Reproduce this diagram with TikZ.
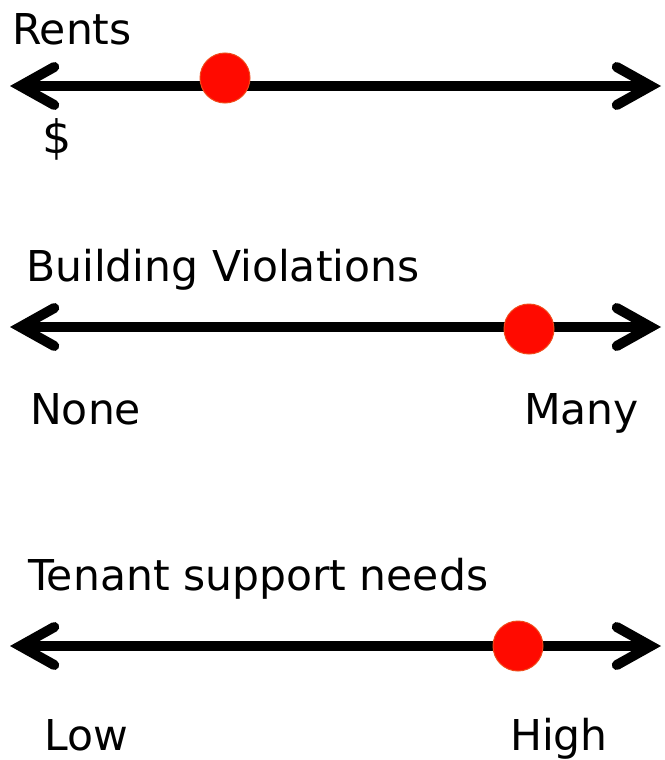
\documentclass[tikz,border=0pt]{standalone}
\usepackage{fontspec}
\setmainfont{DejaVu Sans}
\usetikzlibrary{arrows.meta}
\definecolor{dotred}{HTML}{FF0A00}
\definecolor{dotedge}{HTML}{F04A1A}
\tikzset{
  chev/.tip={Straight Barb[length=34pt,width=38pt,line width=10pt,line cap=round,line join=miter]},
  axis/.style={line width=10pt,chev-chev},
  marker/.style={circle,fill=dotred,draw=dotedge,line width=1pt,minimum size=50pt,inner sep=0pt},
  lab/.style={anchor=base west,inner sep=0pt,font=\fontsize{42.5}{42.5}\selectfont}
}
\begin{document}
\begin{tikzpicture}[x=1pt,y=-1pt]
\useasboundingbox (0,0) rectangle (664,760);
% axis 1
\coordinate (l1) at (10,86);
\coordinate (r1) at (661,86);
\draw[axis] (l1) -- (r1);
\node[marker] (d1) at (225,78) {};
\node[lab] (t1) at (12,45) {Rents};
\node[anchor=center,inner sep=0pt,font=\fontsize{46}{46}\selectfont] (s1) at (57,139) {\$};
% axis 2
\coordinate (l2) at (10,327);
\coordinate (r2) at (661,327);
\draw[axis] (l2) -- (r2);
\node[marker] (d2) at (529,329) {};
\node[lab] (t2) at (26,281) {Building Violations};
\node[lab] (n2) at (30,424) {None};
\node[lab] (m2) at (524,424) {Many};
% axis 3
\coordinate (l3) at (10,646);
\coordinate (r3) at (661,646);
\draw[axis] (l3) -- (r3);
\node[marker] (d3) at (518,646) {};
\node[lab] (t3) at (28,590) {Tenant support needs};
\node[lab] (n3) at (44,750) {Low};
\node[lab] (m3) at (510,750) {High};
\end{tikzpicture}
\end{document}
